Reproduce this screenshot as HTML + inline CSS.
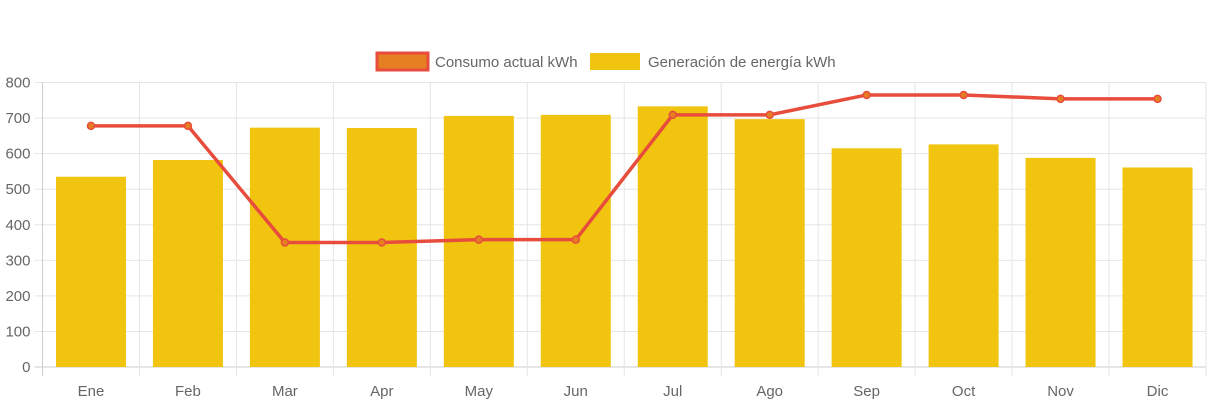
<!DOCTYPE html>
<html><head><meta charset="utf-8"><style>
body{margin:0;background:#fff;font-family:"Liberation Sans",Arial,sans-serif}
svg text{font-family:"Liberation Sans",Arial,sans-serif;fill:#666;font-size:15px}
</style></head><body>
<svg id="chart" width="1213" height="403">
<g id="legend">
<g>
<rect x="377" y="53" width="51" height="17" fill="#e67e22" stroke="#e74c3c" stroke-width="3"/>
<text x="435" y="67">Consumo actual kWh</text></g>
<g>
<rect x="590" y="53" width="50" height="17" fill="#f1c40f"/>
<text x="648" y="67">Generación de energía kWh</text></g>
</g>
<g id="grid"></g><g id="bars"></g><g id="line"></g>
</svg>
<script>
const categories=["Ene","Feb","Mar","Apr","May","Jun","Jul","Ago","Sep","Oct","Nov","Dic"];
const generacion=[535,582,673,672,706,709,733,697,615,626,588,561];
const consumo=[678,678,350,350,358,358,709,709,765,765,754,754];
const yTicks=[0,100,200,300,400,500,600,700,800];
const NS="http://www.w3.org/2000/svg";
const L=42.5,R=1206,T=82.5,B=367,yMax=800;
const cw=(R-L)/categories.length;
const y=v=>B-(v/yMax)*(B-T);
const xc=i=>L+cw*(i+0.5);
function mk(t,a,p){const e=document.createElementNS(NS,t);for(const k in a)e.setAttribute(k,a[k]);p.appendChild(e);return e;}
const g=document.getElementById('grid'),gb=document.getElementById('bars'),gl=document.getElementById('line');
yTicks.forEach(v=>{
 const ln=mk('line',{x1:L-8,x2:R,y1:y(v),y2:y(v),stroke:v===0?'#ccc':'#e5e5e5','stroke-width':1},g);
 
 
 const t=mk('text',{x:L-12,y:y(v)+5,'text-anchor':'end'},g);t.textContent=v;
 
 
});
for(let i=0;i<=categories.length;i++){
 const ln=mk('line',{x1:L+cw*i,x2:L+cw*i,y1:T,y2:B+9,stroke:i===0?'#ccc':'#e5e5e5','stroke-width':1},g);
 
 
}
categories.forEach((c,i)=>{
 const t=mk('text',{x:xc(i),y:396,'text-anchor':'middle'},g);t.textContent=c;
 
 
 const bw=70;
 const r=mk('rect',{x:xc(i)-bw/2,y:y(generacion[i]),width:bw,height:B-y(generacion[i]),fill:'#f1c40f'},gb);
 
 
});
const pl=mk('polyline',{points:consumo.map((v,i)=>xc(i)+','+y(v)).join(' '),fill:'none',stroke:'#e74c3c','stroke-width':3.5},gl);


consumo.forEach((v,i)=>{
 const p=mk('circle',{cx:xc(i),cy:y(v),r:3.5,fill:'#e67e22',stroke:'#e74c3c','stroke-width':1.5},gl);
 
 
});
</script>
</body></html>
